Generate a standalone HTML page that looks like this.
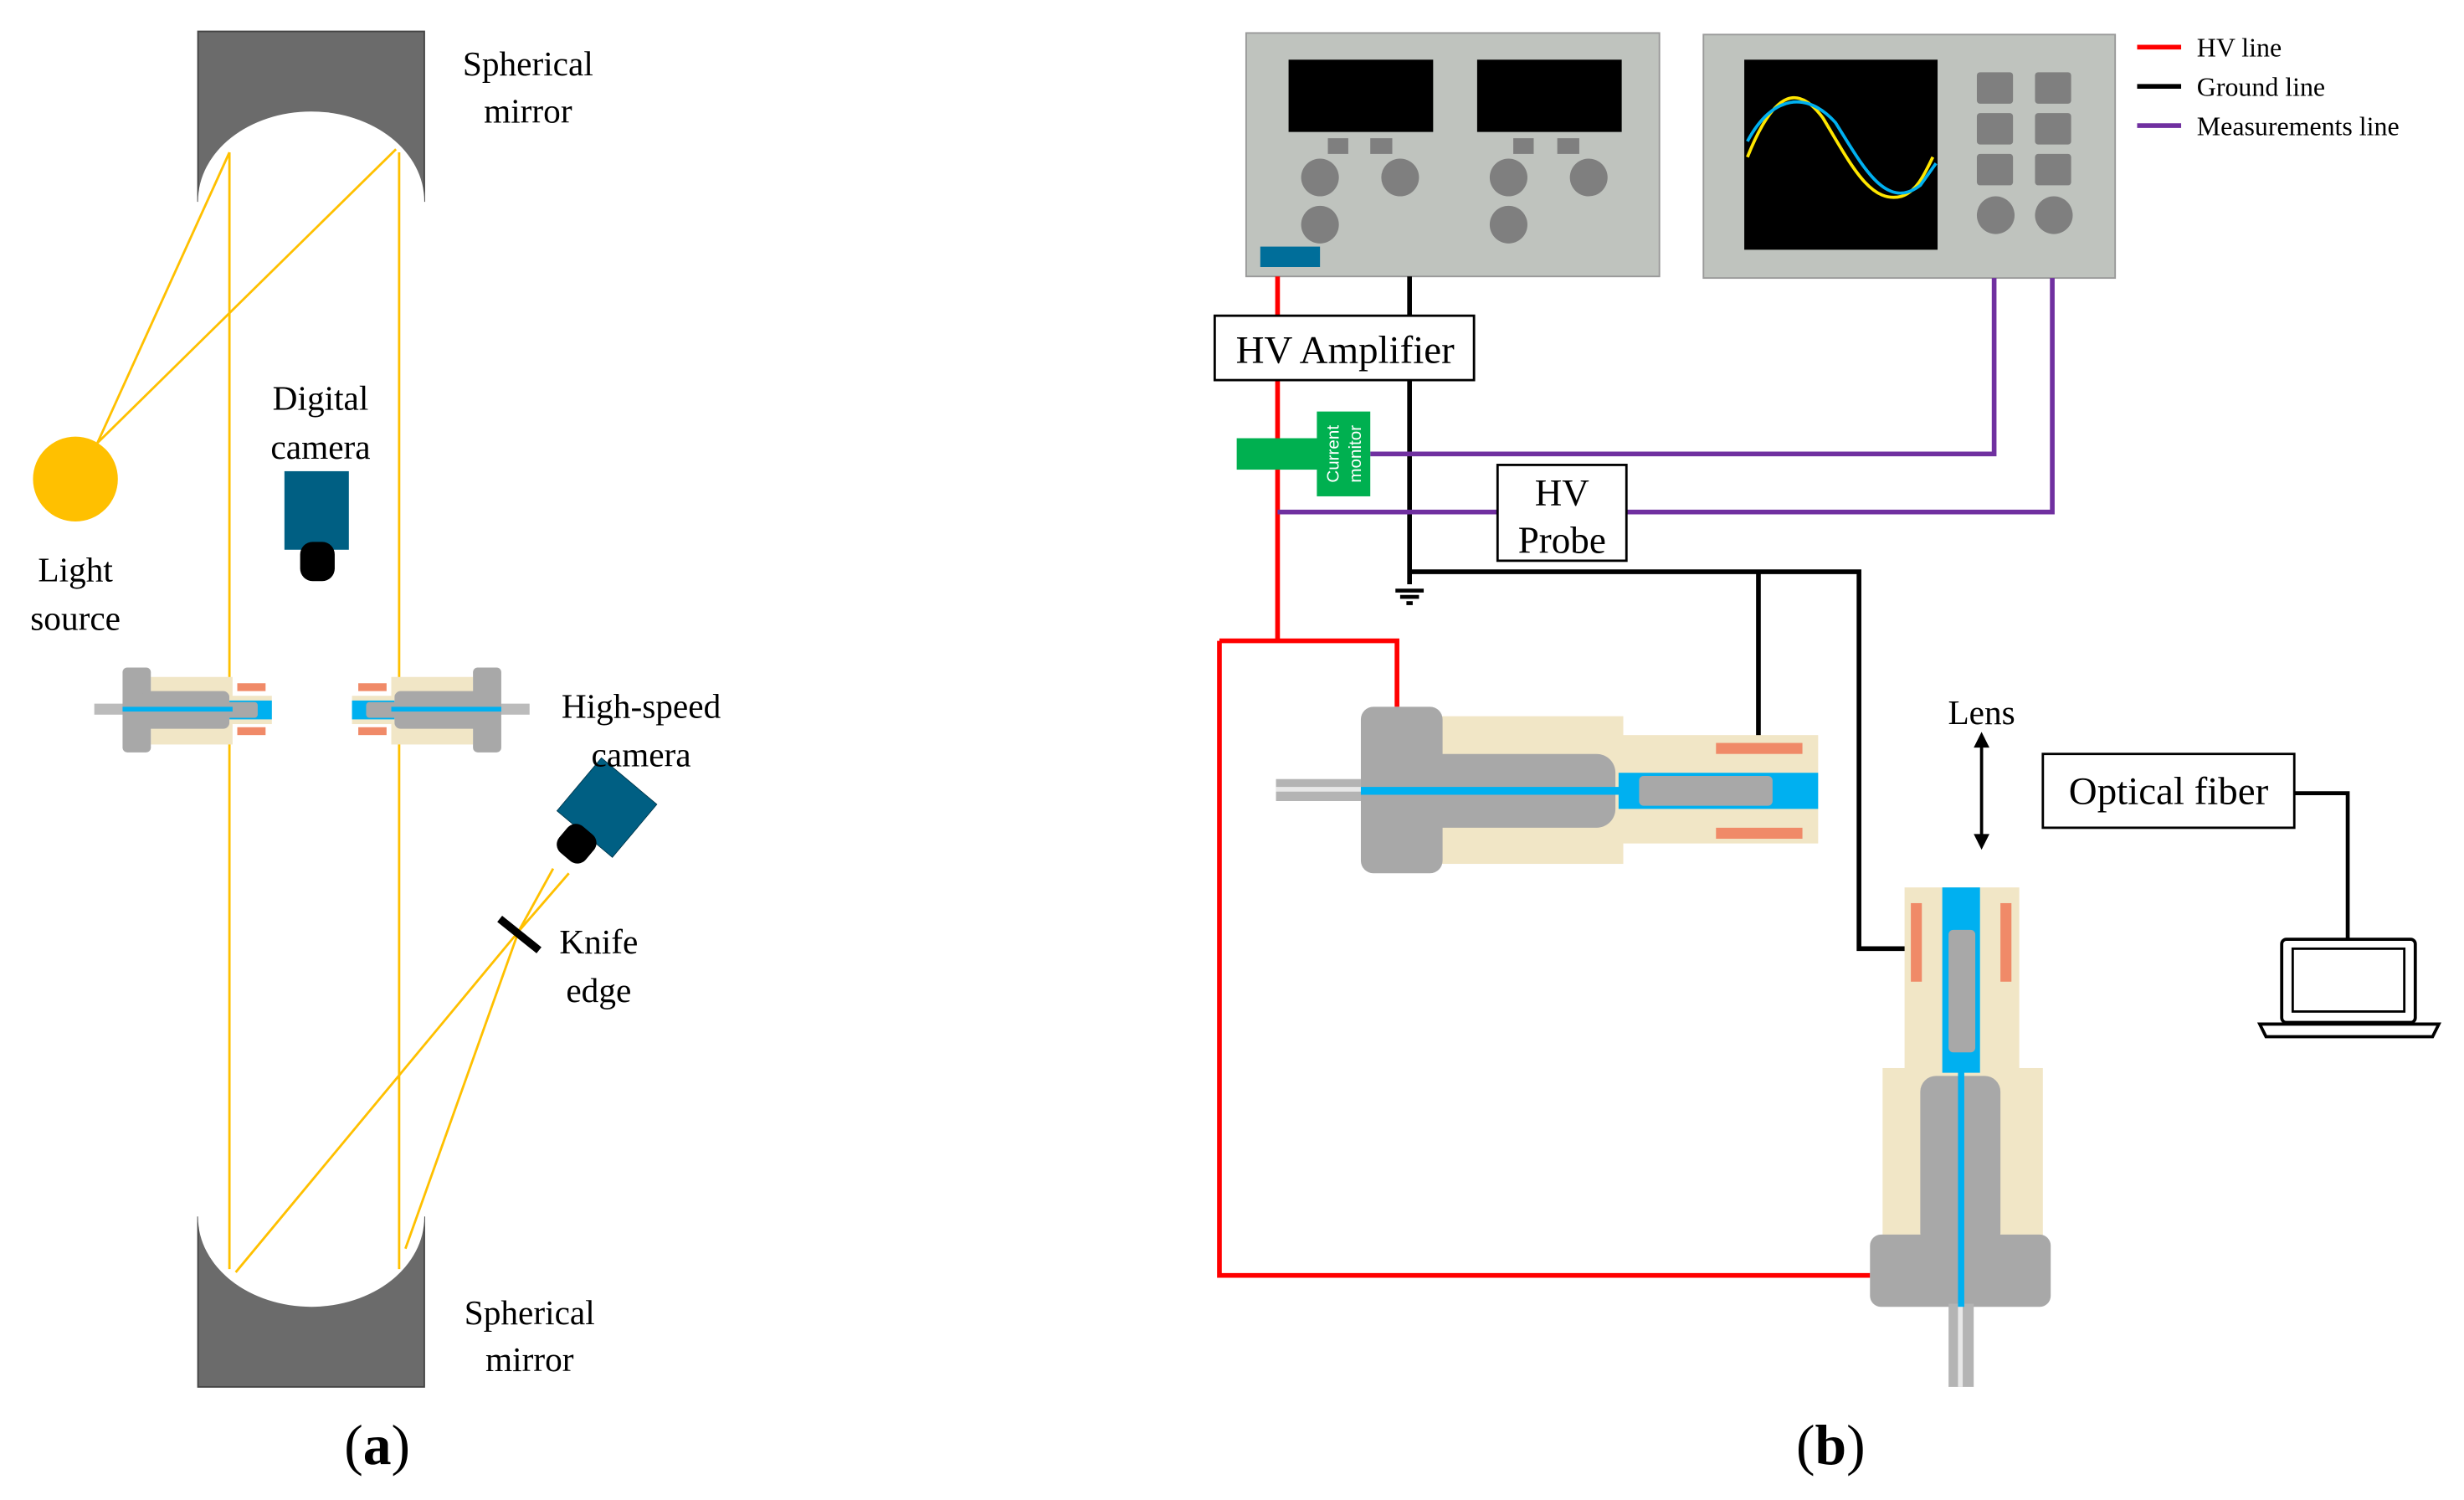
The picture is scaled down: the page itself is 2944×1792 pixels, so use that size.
<!DOCTYPE html>
<html><head><meta charset="utf-8"><style>html,body{margin:0;padding:0;background:#fff}svg{display:block}svg text{font-family:"Liberation Serif",serif}svg text.sans{font-family:"Liberation Sans",sans-serif}</style></head>
<body>
<svg width="2944" height="1792" viewBox="0 0 1568 955" preserveAspectRatio="none" xmlns="http://www.w3.org/2000/svg" font-family="'Liberation Serif', serif">
<rect width="1568" height="955" fill="#fff"/>
<rect x="126" y="20" width="144" height="108" fill="#6b6b6b" stroke="#444" stroke-width="1"/>
<ellipse cx="198" cy="128" rx="72" ry="57" fill="#fff"/>
<rect x="126" y="775" width="144" height="108" fill="#6b6b6b" stroke="#444" stroke-width="1"/>
<ellipse cx="198" cy="775" rx="72" ry="57" fill="#fff"/>
<g stroke="#ffc000" stroke-width="1.5" fill="none">
<line x1="62" y1="282" x2="146" y2="97"/>
<line x1="62" y1="282" x2="252" y2="95"/>
<line x1="146" y1="97" x2="146" y2="808"/>
<line x1="254" y1="97" x2="254" y2="808"/>
<line x1="150" y1="810" x2="330" y2="593"/>
<line x1="258" y1="795" x2="330" y2="593"/>
<line x1="330" y1="593" x2="352" y2="553"/>
<line x1="330" y1="593" x2="362" y2="556"/>
</g>
<circle cx="48" cy="305" r="27" fill="#ffc000"/>
<rect x="181" y="300" width="41" height="50" fill="#005f83"/>
<rect x="191" y="345" width="22" height="25" rx="8" fill="#000"/>
<g>
<rect x="60" y="448" width="22" height="7" fill="#bbb"/>
<rect x="96" y="431" width="52" height="43" fill="#f1e6c6"/>
<rect x="78" y="425" width="18" height="54" rx="3" fill="#a8a8a8"/>
<rect x="90" y="440" width="56" height="24" rx="4" fill="#a8a8a8"/>
<rect x="146" y="443" width="27" height="18" fill="#f1e6c6"/>
<rect x="146" y="446" width="27" height="12" fill="#00b0f0"/>
<rect x="136" y="447" width="28" height="10" rx="2" fill="#a8a8a8"/>
<rect x="78" y="450" width="70" height="3" fill="#00b0f0"/>
<rect x="151" y="435" width="18" height="5" fill="#f08a68"/>
<rect x="151" y="463" width="18" height="5" fill="#f08a68"/>
</g>
<g transform="translate(397,0) scale(-1,1)">
<rect x="60" y="448" width="22" height="7" fill="#bbb"/>
<rect x="96" y="431" width="52" height="43" fill="#f1e6c6"/>
<rect x="78" y="425" width="18" height="54" rx="3" fill="#a8a8a8"/>
<rect x="90" y="440" width="56" height="24" rx="4" fill="#a8a8a8"/>
<rect x="146" y="443" width="27" height="18" fill="#f1e6c6"/>
<rect x="146" y="446" width="27" height="12" fill="#00b0f0"/>
<rect x="136" y="447" width="28" height="10" rx="2" fill="#a8a8a8"/>
<rect x="78" y="450" width="70" height="3" fill="#00b0f0"/>
<rect x="151" y="435" width="18" height="5" fill="#f08a68"/>
<rect x="151" y="463" width="18" height="5" fill="#f08a68"/>
</g>
<g transform="translate(383,518) rotate(40)">
<rect x="-23" y="-27" width="46" height="44" fill="#005f83" stroke="#003a50" stroke-width="0.5"/>
<rect x="-11" y="14" width="22" height="22" rx="7" fill="#000"/>
</g>
<line x1="318" y1="585" x2="343" y2="605" stroke="#000" stroke-width="5"/>
<g font-size="22" text-anchor="middle" fill="#000">
<text x="336" y="48">Spherical</text><text x="336" y="78">mirror</text>
<text x="204" y="261">Digital</text><text x="204" y="292">camera</text>
<text x="48" y="370">Light</text><text x="48" y="401">source</text>
<text x="408" y="457">High-speed</text><text x="408" y="488">camera</text>
<text x="381" y="607">Knife</text><text x="381" y="638">edge</text>
<text x="337" y="843">Spherical</text><text x="337" y="873">mirror</text>
<text x="240" y="932" font-size="36">(<tspan font-weight="bold">a</tspan>)</text>
<text x="1165" y="932" font-size="36">(<tspan font-weight="bold">b</tspan>)</text>
</g>
<rect x="793" y="21" width="263" height="155" fill="#bfc3be" stroke="#999" stroke-width="1"/>
<rect x="820" y="38" width="92" height="46" fill="#000"/>
<rect x="940" y="38" width="92" height="46" fill="#000"/>
<g fill="#7f7f7f">
<rect x="845" y="88" width="13" height="10"/><rect x="872" y="88" width="14" height="10"/>
<rect x="963" y="88" width="13" height="10"/><rect x="991" y="88" width="14" height="10"/>
<circle cx="840" cy="113" r="12"/><circle cx="891" cy="113" r="12"/><circle cx="840" cy="143" r="12"/>
<circle cx="960" cy="113" r="12"/><circle cx="1011" cy="113" r="12"/><circle cx="960" cy="143" r="12"/>
</g>
<rect x="802" y="157" width="38" height="13" fill="#006e9a"/>
<rect x="1084" y="22" width="262" height="155" fill="#bfc3be" stroke="#999" stroke-width="1"/>
<rect x="1110" y="38" width="123" height="121" fill="#000"/>
<path d="M1112 100 C1130 55,1145 55,1160 75 C1178 105,1190 130,1210 125 C1220 122,1225 110,1230 100" stroke="#ffe600" stroke-width="2" fill="none"/>
<path d="M1112 90 C1128 60,1150 58,1168 78 C1185 105,1200 135,1222 118 L1232 104" stroke="#00b0f0" stroke-width="2" fill="none"/>
<g fill="#7f7f7f">
<rect x="1258" y="46" width="23" height="20" rx="2"/><rect x="1295" y="46" width="23" height="20" rx="2"/>
<rect x="1258" y="72" width="23" height="20" rx="2"/><rect x="1295" y="72" width="23" height="20" rx="2"/>
<rect x="1258" y="98" width="23" height="20" rx="2"/><rect x="1295" y="98" width="23" height="20" rx="2"/>
<circle cx="1270" cy="137" r="12"/><circle cx="1307" cy="137" r="12"/>
</g>
<line x1="1360" y1="30" x2="1388" y2="30" stroke="#f00" stroke-width="3"/>
<line x1="1360" y1="55" x2="1388" y2="55" stroke="#000" stroke-width="3"/>
<line x1="1360" y1="80" x2="1388" y2="80" stroke="#7030a0" stroke-width="3"/>
<g font-size="17" fill="#000"><text x="1398" y="36">HV line</text><text x="1398" y="61">Ground line</text><text x="1398" y="86">Measurements line</text></g>
<g fill="none" stroke-width="3">
<path d="M813 176 V408 M776 408 H889 V450 M776 408 V812 H1190" stroke="#f00"/>
<path d="M897 176 V372 M897 364 H1183 V604 H1213 M1119 364 V473" stroke="#000"/>
<path d="M872 289 H1269 V177 M813 326 H953 M1035 326 H1306 V177" stroke="#7030a0"/>
</g>
<g stroke="#000" stroke-width="2.5"><line x1="888" y1="376" x2="906" y2="376"/><line x1="891" y1="380" x2="903" y2="380"/><line x1="895" y1="384" x2="899" y2="384"/></g>
<rect x="773" y="201" width="165" height="41" fill="#fff" stroke="#000" stroke-width="1.5"/>
<text x="856" y="231" font-size="25" text-anchor="middle">HV Amplifier</text>
<rect x="953" y="296" width="82" height="61" fill="#fff" stroke="#000" stroke-width="1.5"/>
<text x="994" y="322" font-size="24" text-anchor="middle">HV</text><text x="994" y="352" font-size="24" text-anchor="middle">Probe</text>
<rect x="787" y="279" width="53" height="20" fill="#00b050"/>
<rect x="838" y="262" width="34" height="54" fill="#00b050"/>
<g font-size="11" fill="#fff" text-anchor="middle">
<text class="sans" transform="translate(852,289) rotate(-90)">Current</text>
<text class="sans" transform="translate(866,289) rotate(-90)">monitor</text>
</g>
<rect x="812" y="496" width="56" height="14" fill="#b4b4b4"/>
<rect x="812" y="501" width="56" height="3" fill="#e8e8e8"/>
<rect x="915" y="456" width="118" height="94" fill="#f1e6c6"/>
<rect x="1030" y="468" width="127" height="69" fill="#f1e6c6"/>
<rect x="1092" y="473" width="55" height="7" fill="#f08a68"/>
<rect x="1092" y="527" width="55" height="7" fill="#f08a68"/>
<rect x="1030" y="492" width="127" height="23" fill="#00b0f0"/>
<rect x="866" y="450" width="52" height="106" rx="8" fill="#a8a8a8"/>
<rect x="900" y="480" width="128" height="47" rx="12" fill="#a8a8a8"/>
<rect x="1043" y="494" width="85" height="19" rx="3" fill="#a8a8a8"/>
<rect x="866" y="501" width="174" height="5" fill="#00b0f0"/>
<rect x="1038" y="494" width="5" height="19" fill="#00b0f0"/>
<rect x="1212" y="565" width="73" height="118" fill="#f1e6c6"/>
<rect x="1198" y="680" width="102" height="110" fill="#f1e6c6"/>
<rect x="1236" y="565" width="24" height="118" fill="#00b0f0"/>
<rect x="1240" y="592" width="17" height="78" rx="3" fill="#a8a8a8"/>
<rect x="1216" y="575" width="7" height="50" fill="#f08a68"/>
<rect x="1273" y="575" width="7" height="50" fill="#f08a68"/>
<rect x="1222" y="685" width="51" height="110" rx="10" fill="#a8a8a8"/>
<rect x="1190" y="786" width="115" height="46" rx="7" fill="#a8a8a8"/>
<rect x="1240" y="830" width="16" height="53" fill="#b4b4b4"/>
<rect x="1246" y="830" width="3" height="53" fill="#e8e8e8"/>
<rect x="1246" y="675" width="4" height="157" fill="#00b0f0"/>
<line x1="1261" y1="472" x2="1261" y2="535" stroke="#000" stroke-width="2"/>
<polygon points="1261,466 1256,476 1266,476" fill="#000"/>
<polygon points="1261,541 1256,531 1266,531" fill="#000"/>
<text x="1261" y="461" font-size="22" text-anchor="middle">Lens</text>
<rect x="1300" y="480" width="160" height="47" fill="#fff" stroke="#000" stroke-width="1.5"/>
<text x="1380" y="512" font-size="25" text-anchor="middle">Optical fiber</text>
<path d="M1460 505 H1494 V598" stroke="#000" stroke-width="2.5" fill="none"/>
<rect x="1452" y="598" width="85" height="53" rx="3" fill="#fff" stroke="#000" stroke-width="2"/>
<rect x="1459" y="604" width="71" height="40" fill="#fff" stroke="#000" stroke-width="1.5"/>
<path d="M1438 652 H1552 L1548 660 H1442 Z" fill="#fff" stroke="#000" stroke-width="2"/>
</svg>
</body></html>
